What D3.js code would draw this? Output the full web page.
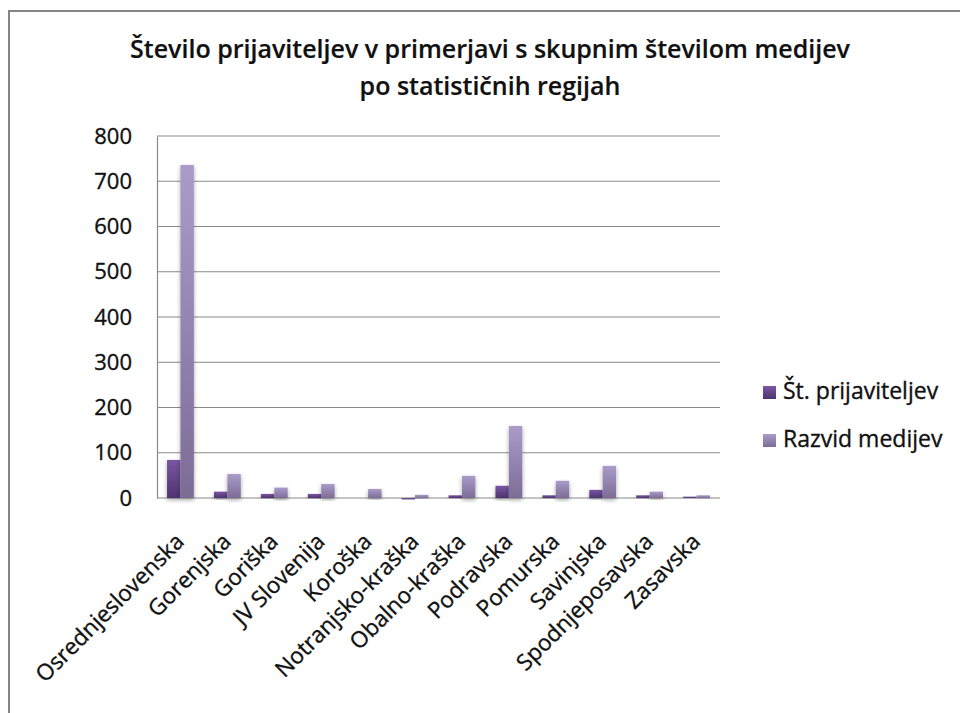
<!DOCTYPE html>
<html>
<head>
<meta charset="utf-8">
<script src="https://cdn.jsdelivr.net/npm/d3@7"></script>
<style>
  body { margin: 0; background: #fff; }
  text { font-family: "Open Sans", sans-serif; fill: #111; stroke: #111; stroke-width: 0.35px; }
</style>
</head>
<body>
<div id="chart"></div>
<script>
// data
const regions = ['Osrednjeslovenska', 'Gorenjska', 'Goriška', 'JV Slovenija', 'Koroška',
    'Notranjsko-kraška', 'Obalno-kraška', 'Podravska', 'Pomurska', 'Savinjska',
    'Spodnjeposavska', 'Zasavska'];
const prijavitelji = [84, 14, 9, 9, 0, -3, 6, 27, 6, 18, 6, 3];
const razvid = [736, 53, 23, 31, 20, 7, 49, 159, 38, 71, 14, 6];
const seriesNames = ['Št. prijaviteljev', 'Razvid medijev'];
const yTicks = [0, 100, 200, 300, 400, 500, 600, 700, 800];
const titleLines = ['Število prijaviteljev v primerjavi s skupnim številom medijev', 'po statističnih regijah'];

const width = 960,
    height = 713;

const plot = { left: 157, right: 720, top: 136, bottom: 498 };

const svg = d3.select('#chart').append('svg')
    .attr('width', width)
    .attr('height', height);

const defs = svg.append('defs');

// bar gradients, one per series
const gradColors = [['#7a56a3', '#4e346f'], ['#ab9bc9', '#7c6c96']];
gradColors.forEach((c, i) => {
    const g = defs.append('linearGradient')
        .attr('id', 'grad' + i)
        .attr('x1', 0).attr('y1', 0).attr('x2', 0).attr('y2', 1);
    g.append('stop').attr('offset', '0%').attr('stop-color', c[0]);
    g.append('stop').attr('offset', '100%').attr('stop-color', c[1]);
});

const shadow = defs.append('filter').attr('id', 'shadow')
    .attr('x', '-30%').attr('y', '-10%').attr('width', '160%').attr('height', '130%');
shadow.append('feDropShadow')
    .attr('dx', 0).attr('dy', 2)
    .attr('stdDeviation', 2)
    .attr('flood-color', '#000')
    .attr('flood-opacity', 0.35);

// outer frame (only top and left edges are inside the window)
svg.append('rect')
    .attr('x', 9).attr('y', 11)
    .attr('width', 1000).attr('height', 800)
    .attr('fill', '#fff')
    .attr('stroke', '#858585')
    .attr('stroke-width', 2);

// title
svg.append('g').selectAll('text')
    .data(titleLines)
    .enter()
    .append('text')
    .attr('x', 490)
    .attr('y', (d, i) => 58 + i * 37)
    .attr('text-anchor', 'middle')
    .attr('font-size', 25)
    .attr('font-weight', 600)
    .style('stroke-width', '0.2px')
    .text(d => d);

const x = d3.scaleBand()
    .domain(regions)
    .range([plot.left, plot.right])
    .padding(0);

const barW = x.bandwidth() / 3.5;

const y = d3.scaleLinear()
    .domain([0, 800])
    .range([plot.bottom, plot.top]);

// gridlines
svg.append('g')
    .selectAll('line')
    .data(yTicks)
    .enter()
    .append('line')
    .attr('x1', plot.left)
    .attr('x2', plot.right)
    .attr('y1', d => y(d))
    .attr('y2', d => y(d))
    .attr('stroke', '#8a8a8a')
    .attr('stroke-width', 1.2);

// y axis
const yAxis = svg.append('g')
    .attr('transform', 'translate(' + plot.left + ',0)')
    .call(d3.axisLeft(y).tickValues(yTicks).tickSize(0).tickPadding(25));
yAxis.select('.domain').attr('stroke', '#8a8a8a').attr('stroke-width', 1.2);
yAxis.selectAll('text')
    .attr('font-size', 22)
    .attr('fill', '#111')
    .style('font-family', '"Open Sans", sans-serif');

// bars
const groups = svg.append('g').selectAll('g')
    .data(regions)
    .enter()
    .append('g')
    .attr('transform', d => 'translate(' + (x(d) + (x.bandwidth() - 2 * barW) / 2) + ',0)');

groups.each(function(d, i) {
    const vals = [prijavitelji[i], razvid[i]];
    d3.select(this).selectAll('rect')
        .data(vals)
        .enter()
        .append('rect')
        .attr('x', (v, j) => j * barW)
        .attr('y', v => Math.min(y(v), y(0)))
        .attr('width', barW)
        .attr('height', v => Math.abs(y(v) - y(0)))
        .attr('fill', (v, j) => 'url(#grad' + j + ')')
        .attr('filter', 'url(#shadow)');
});

// category labels
svg.append('g').selectAll('text')
    .data(regions)
    .enter()
    .append('text')
    .attr('transform', d => 'translate(' + (x(d) + x.bandwidth() / 2 + 5) + ',543) rotate(-45)')
    .attr('text-anchor', 'end')
    .attr('font-size', 22.5)
    .text(d => d);

// legend
const legend = svg.append('g').selectAll('g')
    .data(seriesNames)
    .enter()
    .append('g')
    .attr('transform', (d, i) => 'translate(763,' + (386 + i * 48) + ')');
legend.append('rect')
    .attr('width', 13)
    .attr('height', 13)
    .attr('fill', (d, i) => 'url(#grad' + i + ')');
legend.append('text')
    .attr('x', 20)
    .attr('y', 13)
    .attr('font-size', 23)
    .text(d => d);
</script>
</body>
</html>
